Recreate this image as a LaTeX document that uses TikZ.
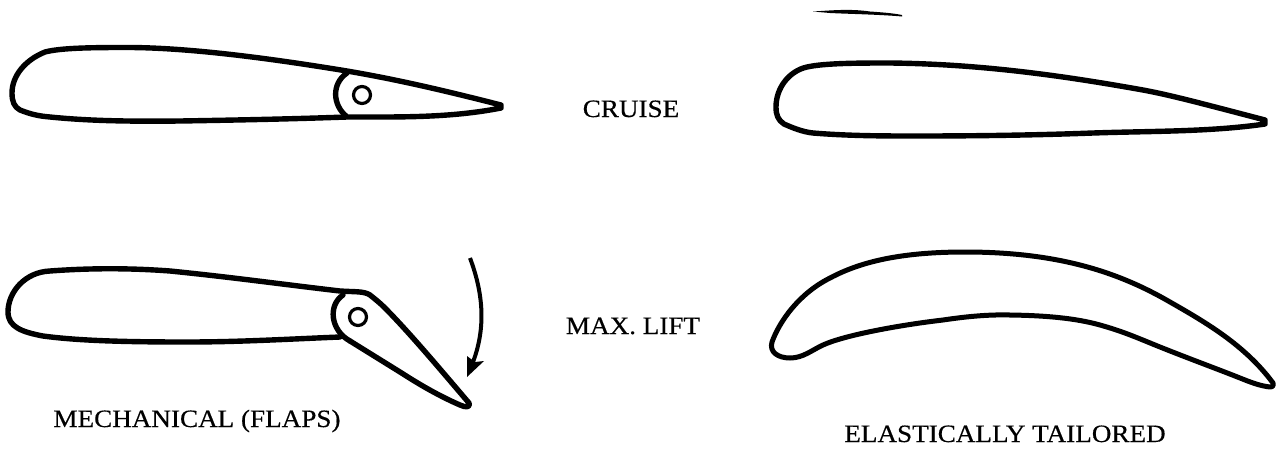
\documentclass[tikz,border=0pt]{standalone}
\usepackage{fontspec}
\setmainfont[FakeStretch=1.085,FakeBold=0.4]{Liberation Serif}
\tikzset{
  foil/.style={line width=5.4pt,line join=round,line cap=round},
  foilthin/.style={line width=5pt,line join=round,line cap=round},
  pin/.style={line width=3.2pt},
  lbl/.style={font=\fontsize{25}{29}\selectfont,inner sep=0pt,anchor=base}
}
\begin{document}
\begin{tikzpicture}[x=1pt,y=-1pt]
\useasboundingbox (0,0) rectangle (1282,451);
% top-left airfoil
\draw[foil] (501,105) .. controls (450,92) and (400,80) .. (347,71) .. controls (280,60) and (190,47) .. (123,47.5) .. controls (90,47.5) and (60,48) .. (45,52) .. controls (25,60) and (12,76) .. (12,93) .. controls (12,101) and (14,107) .. (20,110) .. controls (30,114) and (38,116) .. (50,117) .. controls (90,121) and (130,121.5) .. (180,121) .. controls (240,120) and (290,119) .. (347,117) .. controls (400,117) and (450,118) .. (501,108) -- cycle;
\draw[foil] (347,73) .. controls (331,84) and (333,105) .. (346,116);
\node[circle,draw,pin,minimum size=17pt,inner sep=0pt] (pinA) at (362,95) {};
% bottom-left airfoil
\draw[foil] (340,337) .. controls (290,339) and (240,342) .. (187,342) .. controls (130,342) and (80,341) .. (43,336) .. controls (22,332) and (8,327) .. (8,312) .. controls (8,292) and (25,272) .. (50,271) .. controls (90,268) and (130,268) .. (170,271) .. controls (230,277) and (280,284) .. (340,291) .. controls (355,292) and (364,291) .. (370,295) .. controls (375,299) and (380,303) .. (384,307) .. controls (410,333) and (445,375) .. (469,403) .. controls (471,407) and (466,408) .. (460,405) .. controls (430,392) and (405,375) .. (400,372) -- (350,341);
\draw[foil] (343,295) .. controls (328,305) and (330,330) .. (350,341);
\node[circle,draw,pin,minimum size=17pt,inner sep=0pt] (pinB) at (358,317) {};
% arrow
\draw[line width=4pt] (470,258) .. controls (482,290) and (487,325) .. (473,362);
\fill (467,377) -- (467,356) -- (475,362) -- (484,361) -- cycle;
% smudge and top-right airfoil
\fill (813,11.5) .. controls (830,10.5) and (850,8.5) .. (870,11.5) .. controls (885,12.5) and (895,13.5) .. (902,15) -- (902,16.5) .. controls (880,14.5) and (850,14) .. (830,13) -- cycle;
\draw[foil] (1265,120) .. controls (1200,103) and (1170,95) .. (1143,90) .. controls (1070,77) and (985,64) .. (890,63) .. controls (860,63) and (825,63) .. (807,67) .. controls (789,71) and (776,88) .. (776,107) .. controls (776,115) and (778,120) .. (784,124) .. controls (793,128) and (803,132) .. (813,133) .. controls (850,136) and (885,136) .. (917,136) .. controls (980,136) and (1040,135) .. (1093,133) .. controls (1150,131) and (1210,132) .. (1265,124) -- cycle;
% bottom-right airfoil
\draw[foilthin] (1273,383) .. controls (1245,345) and (1205,322) .. (1170,302) .. controls (1120,273) and (1060,252) .. (965,252) .. controls (900,252) and (860,262) .. (830,278) .. controls (800,293) and (780,320) .. (772,342) .. controls (769,352) and (778,358) .. (790,358) .. controls (803,358) and (812,350) .. (823,345) .. controls (845,335) and (900,325) .. (943,320) .. controls (970,316) and (990,314.5) .. (1010,315) .. controls (1045,315.5) and (1075,318) .. (1100,325) .. controls (1125,332) and (1140,339) .. (1160,347) .. controls (1190,359) and (1220,370) .. (1240,378) .. controls (1250,382) and (1260,386) .. (1270,387) .. controls (1273,387) and (1274,385) .. (1273,383) -- cycle;
% labels
\node[lbl] (cruise) at (631,117) {CRUISE};
\node[lbl] (maxlift) at (633,334) {MAX. LIFT};
\node[lbl] (mech) at (197,427) {MECHANICAL (FLAPS)};
\node[lbl] (elastic) at (1005,442) {ELASTICALLY TAILORED};
\end{tikzpicture}
\end{document}
